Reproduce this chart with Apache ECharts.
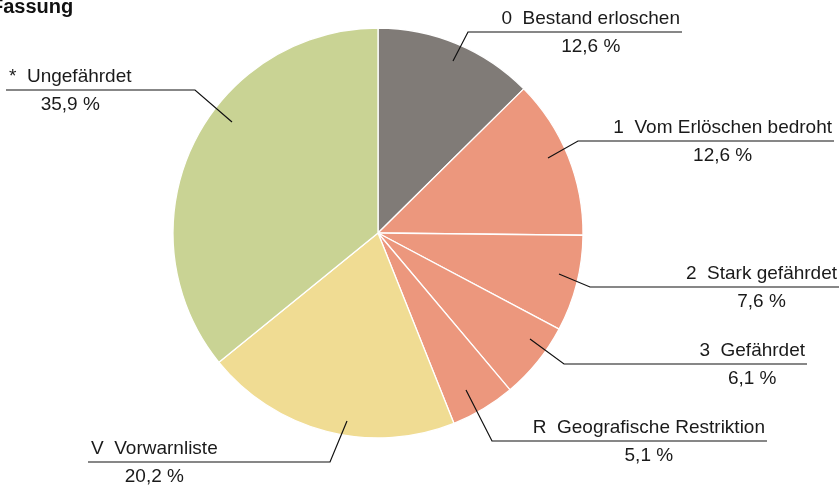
<!DOCTYPE html>
<html>
<head>
<meta charset="utf-8">
<script src="https://cdn.jsdelivr.net/npm/echarts@6/dist/echarts.min.js"></script>
<style>
html,body{margin:0;padding:0;background:#fff;}
#chart{width:840px;height:486px;}
</style>
</head>
<body>
<div id="chart"></div>
<script>
// Data
const codes = ['0', '1', '2', '3', 'R', 'V', '*'];
const categories = ['Bestand erloschen', 'Vom Erlöschen bedroht', 'Stark gefährdet', 'Gefährdet', 'Geografische Restriktion', 'Vorwarnliste', 'Ungefährdet'];
const values = [12.6, 12.6, 7.6, 6.1, 5.1, 20.2, 35.9];
const valueLabels = ['12,6 %', '12,6 %', '7,6 %', '6,1 %', '5,1 %', '20,2 %', '35,9 %'];

// Styles / layout
const colors = ['#807b77', '#ec977d', '#ec977d', '#ec977d', '#ec977d', '#f0dc93', '#c9d394'];
// [start point, elbow point, end point of underline], label side
const leaders = [
  {pts: [[453, 61], [468, 32], [682, 32]], side: 'right'},
  {pts: [[548, 158], [578, 141], [834, 141]], side: 'right'},
  {pts: [[559, 274], [590, 287], [839, 287]], side: 'right'},
  {pts: [[530, 339], [564, 364], [807, 364]], side: 'right'},
  {pts: [[466, 390], [492, 441], [767, 441]], side: 'right'},
  {pts: [[347, 421], [330, 462], [88, 462]], side: 'left'},
  {pts: [[232, 122], [195, 90], [6, 90]], side: 'left'}
];

const chart = echarts.init(document.getElementById('chart'));
const font = '"Liberation Sans", Arial, sans-serif';
const pieBase = {
  type: 'pie',
  center: [378, 233],
  radius: 205,
  startAngle: 90,
  clockwise: true,
  avoidLabelOverlap: false,
  emphasis: {disabled: true},
  silent: true
};

chart.setOption({
  animation: false,
  graphic: [{
    type: 'text', x: -9, y: -3,
    style: {text: 'Fassung', font: 'bold 20px ' + font, fill: '#111'}
  }],
  series: [
    Object.assign({}, pieBase, {
      z: 1,
      itemStyle: {borderColor: '#fff', borderWidth: 1.3},
      label: {show: false},
      labelLine: {show: false},
      data: values.map((v, i) => ({value: v, name: categories[i], itemStyle: {color: colors[i]}}))
    }),
    Object.assign({}, pieBase, {
      z: 5,
      itemStyle: {color: 'rgba(0,0,0,0)', borderWidth: 0},
      label: {
        show: true,
        position: 'outer',
        formatter: function (p) {
          return '{a|' + codes[p.dataIndex] + '  ' + categories[p.dataIndex] + '}\n{b|' + valueLabels[p.dataIndex] + '}';
        },
        rich: {
          a: {fontFamily: font, fontSize: 19, color: '#1a1a1a', lineHeight: 29, align: 'center'},
          b: {fontFamily: font, fontSize: 19, color: '#1a1a1a', lineHeight: 27, align: 'center'}
        }
      },
      labelLine: {show: true, lineStyle: {color: '#111', width: 1.2}},
      labelLayout: function (params) {
        const l = leaders[params.dataIndex];
        const end = l.pts[2];
        return {
          x: l.side === 'right' ? end[0] - 2 : end[0] + 3,
          y: end[1],
          align: l.side,
          verticalAlign: 'middle',
          labelLinePoints: l.pts
        };
      },
      data: values.map((v, i) => ({value: v, name: categories[i]}))
    })
  ]
});
</script>
</body>
</html>
